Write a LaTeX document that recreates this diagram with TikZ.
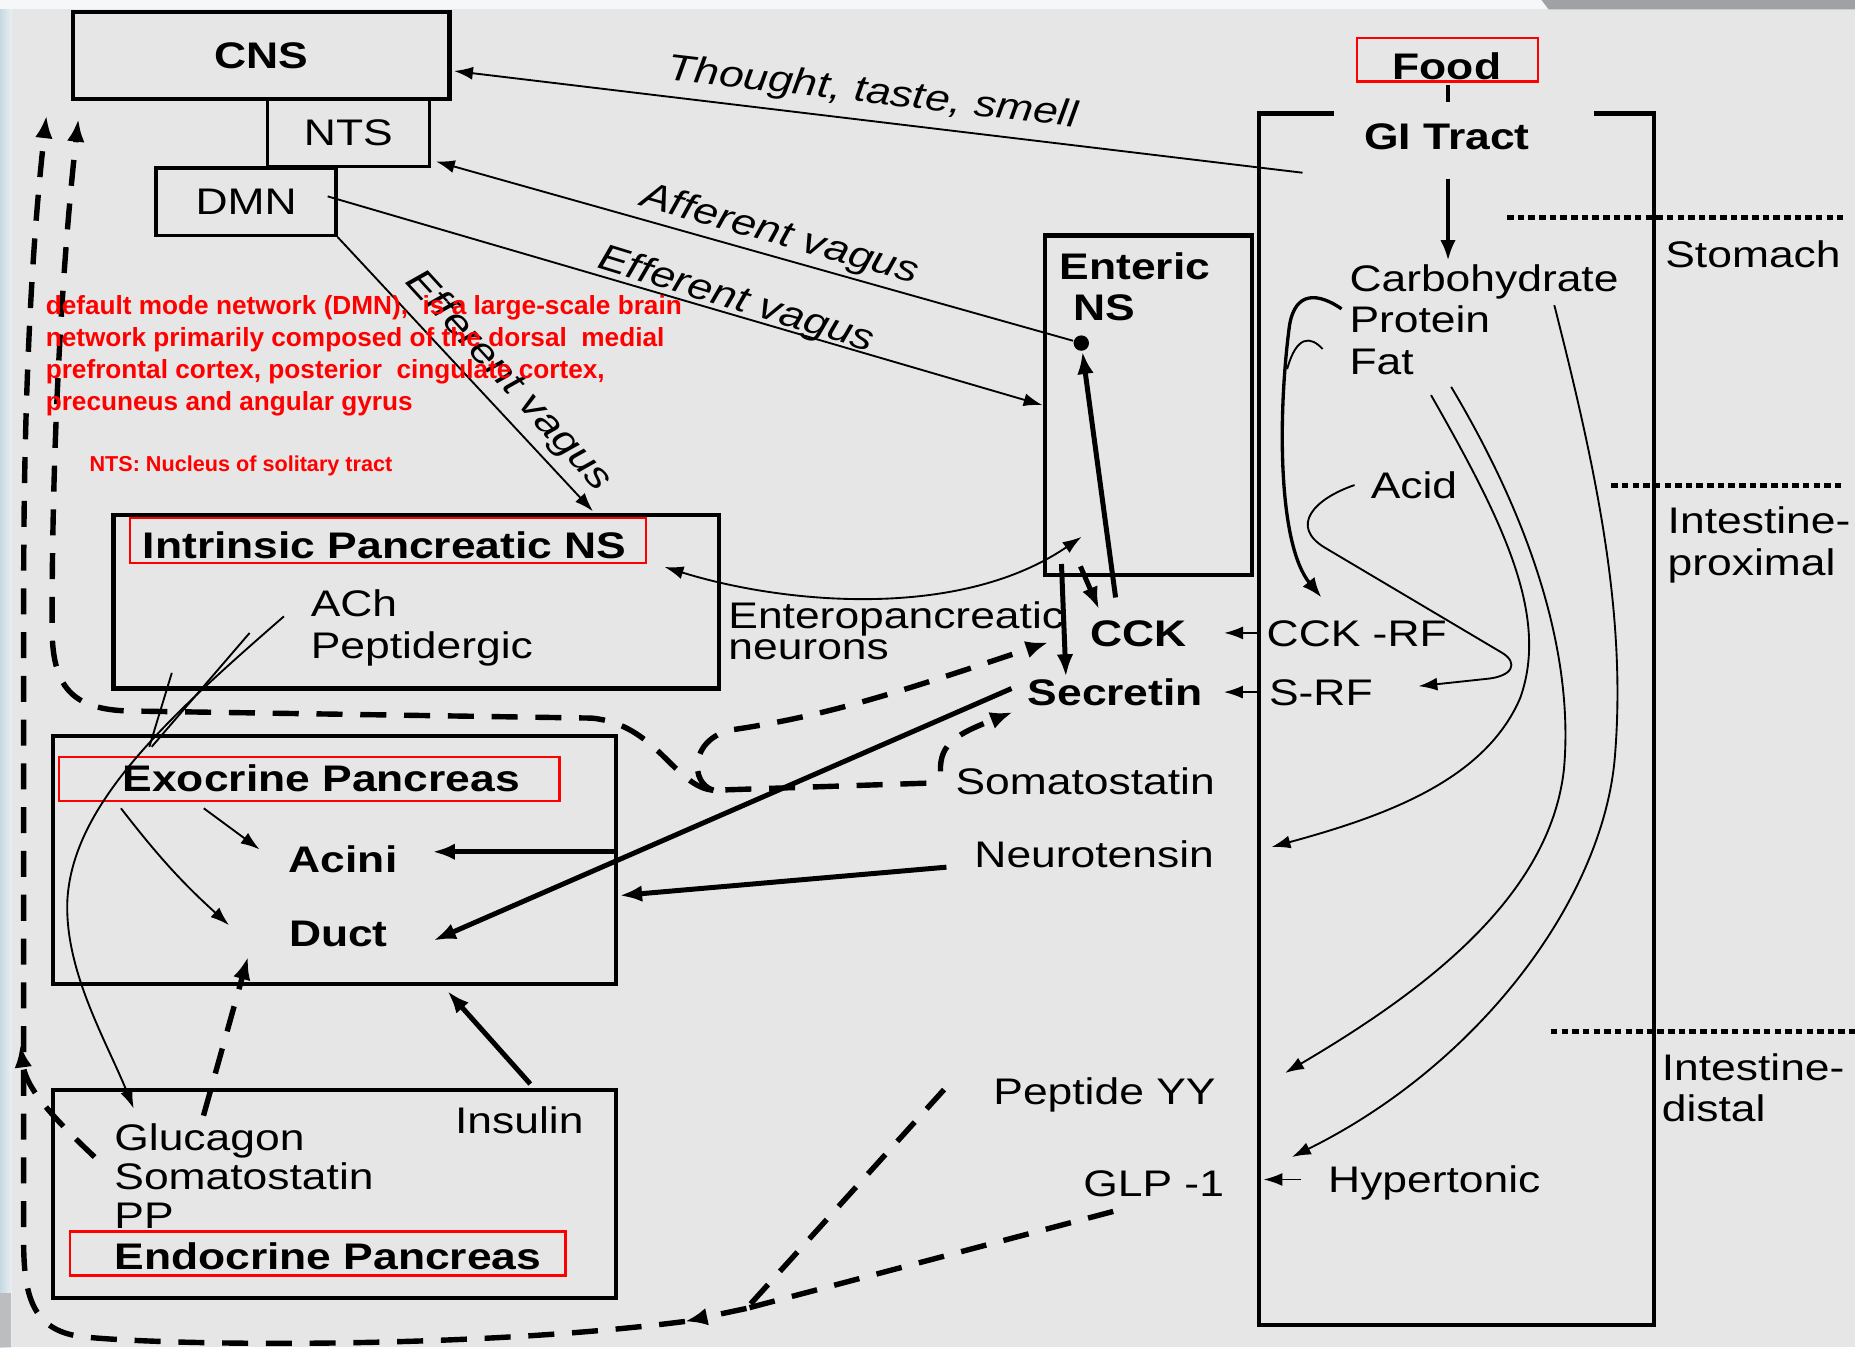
\documentclass[tikz,border=0pt]{standalone}
\usepackage{fontspec}
\setmainfont[FakeStretch=1.2]{Liberation Sans}
\newfontfamily\notefont{Liberation Sans}
\usepackage{tikz}
\usetikzlibrary{arrows.meta, positioning, calc}
\definecolor{bggray}{RGB}{230,230,230}
\definecolor{topstrip}{RGB}{245,247,249}
\definecolor{sidestrip}{RGB}{200,216,226}
\definecolor{cornergray}{RGB}{160,161,164}
\definecolor{notered}{RGB}{255,0,0}
\newcommand\diagfont{\fontsize{8.9}{10.5}\selectfont}
\tikzset{
  lbl/.style={inner sep=0pt, anchor=west, text height=6.4pt, text depth=0pt, font=\diagfont},
  blbl/.style={lbl, font=\diagfont\bfseries},
  ilbl/.style={lbl, anchor=center, font=\diagfont\itshape},
  box/.style={draw, line width=1pt, inner sep=0pt, font=\diagfont},
  hilite/.style={draw=notered, line width=0.6pt},
  nerve/.style={line width=0.45pt},
  arrow/.style={nerve, -{Latex[length=1.6mm, width=1.1mm]}},
  twoway/.style={nerve, {Latex[length=1.6mm, width=1.1mm]}-{Latex[length=1.6mm, width=1.1mm]}},
  midarrow/.style={line width=0.8pt, -{Latex[length=1.7mm, width=1.3mm]}},
  thickarrow/.style={line width=1.2pt, -{Latex[length=1.9mm, width=1.4mm]}},
  hormone/.style={line width=1.3pt, dash pattern=on 2.2mm off 1.5mm},
  hormonetip/.style={hormone, -{Latex[length=1.9mm, width=1.5mm]}},
  zone/.style={line width=1.2pt, dash pattern=on 0.55mm off 0.35mm},
  note/.style={inner sep=0pt, anchor=west, text=notered, text height=4.5pt, text depth=0pt,
    font=\notefont\bfseries\fontsize{6.3}{7.7}\selectfont}
}
\begin{document}
\begin{tikzpicture}[x=0.1mm, y=-0.1mm]
  \useasboundingbox (0,0) rectangle (1568,1139);
  % background of the slide
  \fill[bggray] (0,0) rectangle (1568,1139);
  \fill[topstrip] (0,0) rectangle (1568,8);
  \fill[cornergray] (1303,0) -- (1568,0) -- (1568,8) -- (1309,8) -- cycle;
  \shade[left color=sidestrip, right color=sidestrip!40!white] (0,8) rectangle (10,1139);
  \fill[cornergray!70] (0,1093) rectangle (9,1139);

  % brain and pancreas
  \node[box, minimum width=31.8mm, minimum height=7.4mm] (cns) at (221,47) {\bfseries CNS};
  \node[box, line width=0.8pt, minimum width=13.7mm, minimum height=5.7mm] (nts) at (294.5,112.5) {NTS};
  \node[box, line width=0.8pt, minimum width=15.2mm, minimum height=5.7mm] (dmn) at (208,170.5) {DMN};
  \node[box, minimum width=51.2mm, minimum height=14.7mm] (ipns) at (352,508.5) {};
  \node[box, minimum width=47.6mm, minimum height=21mm] (exo) at (283,727) {};
  \node[box, minimum width=47.6mm, minimum height=17.6mm] (endo) at (283,1009) {};
  \node[box, minimum width=17.5mm, minimum height=28.7mm] (ens) at (970.5,342.5) {};

  \node[blbl] (ipnst) at (120,461) {Intrinsic Pancreatic NS};
  \node[lbl] (ach) at (262,510) {ACh};
  \node[lbl] (pept) at (262,545) {Peptidergic};
  \node[blbl] (exot) at (103,658) {Exocrine Pancreas};
  \node[blbl, anchor=center] (acini) at (290,726) {Acini};
  \node[blbl, anchor=center] (duct) at (286,789) {Duct};
  \node[lbl] (glu) at (96,961) {Glucagon};
  \node[lbl] (endosom) at (96,994) {Somatostatin};
  \node[lbl] (pp) at (96,1027) {PP};
  \node[blbl] (endot) at (96,1062) {Endocrine Pancreas};
  \node[lbl] (ins) at (384,947) {Insulin};
  \node[blbl] (enst1) at (895,225) {Enteric};
  \node[blbl] (enst2) at (907,260) {NS};
  \node[circle, fill, inner sep=0pt, minimum size=1.3mm] (ensdot) at (914,290) {};

  \draw[hilite] (110,438) rectangle (546,476);
  \draw[hilite] (50,640) rectangle (473,677);
  \draw[hilite] (59,1041) rectangle (478,1078);

  % gut
  \draw[line width=1pt] (1128,96) -- (1064,96) -- (1064,1120) -- (1398,1120) -- (1398,96) -- (1347,96);
  \node[blbl, anchor=center] (food) at (1223,56) {Food};
  \draw[hilite] (1147,32) rectangle (1300,69);
  \node[blbl, anchor=center] (gi) at (1223,115) {GI Tract};
  \node[lbl] (carb) at (1140,235) {Carbohydrate};
  \node[lbl] (prot) at (1140,270) {Protein};
  \node[lbl] (fat) at (1140,305) {Fat};
  \node[lbl] (acid) at (1158,410) {Acid};
  \node[lbl] (stom) at (1407,215) {Stomach};
  \node[lbl] (prox1) at (1409,440) {Intestine-};
  \node[lbl] (prox2) at (1409,475) {proximal};
  \node[lbl] (dist1) at (1404,902) {Intestine-};
  \node[lbl] (dist2) at (1404,937) {distal};
  \draw[zone] (1274,184) -- (1558,184);
  \draw[zone] (1362,410) -- (1556,410);
  \draw[zone] (1311,872) -- (1568,872);

  \node[blbl] (cck) at (921,535) {CCK};
  \node[lbl] (cckrf) at (1070,535) {CCK -RF};
  \node[blbl] (secr) at (868,585) {Secretin};
  \node[lbl] (srf) at (1072,585) {S-RF};
  \node[lbl] (entp1) at (615,520) {Enteropancreatic};
  \node[lbl] (entp2) at (615,546) {neurons};
  \node[lbl] (somat) at (807,660) {Somatostatin};
  \node[lbl] (neuro) at (823,722) {Neurotensin};
  \node[lbl] (pyy) at (839,922) {Peptide YY};
  \node[lbl] (glp) at (915,1000) {GLP -1};
  \node[lbl] (hyper) at (1122,997) {Hypertonic};

  % vagal and sensory paths
  \coordinate (githought) at (1101,146);
  \coordinate (dmnout) at (277,166);
  \draw[arrow] (githought) -- ($(cns.east)+(2,13)$);
  \draw[arrow] (ensdot) -- ($(nts.south east)+(4,-6)$);
  \draw[arrow] (dmnout) -- (ens.west);
  \draw[arrow] (dmn.south east) -- ($(ipns.north west)+(407,-1)$);
  \node[ilbl, rotate=-6.7] (lthought) at (738,76) {Thought, taste, smell};
  \node[ilbl, rotate=-15.8] (laff) at (660,196) {Afferent vagus};
  \node[ilbl, rotate=-17] (leff) at (623,251) {Efferent vagus};
  \node[ilbl, rotate=-47.5] (leff2) at (432,320) {Efferent vagus};

  \draw[twoway] ($(ipns.north east)+(-48,46)$) .. controls (660,510) and (810,525) .. ($(ens.south west)+(33,-34)$);
  \draw[thickarrow] ($(cck.north west)+(22,-18)$) -- (ensdot);
  \draw[thickarrow] ($(ens.south west)+(32,-9)$) -- ($(cck.north west)+(8,-8)$);
  \draw[thickarrow] ($(ens.south west)+(16,-11)$) -- ($(secr.north west)+(33,-1)$);
  \draw[arrow] ($(cckrf.west)+(-7,0)$) -- ($(cck.east)+(31,0)$);
  \draw[arrow] ($(srf.west)+(-9,0)$) -- ($(secr.east)+(17,0)$);
  \draw[arrow] ($(hyper.west)+(-22,0)$) -- ($(hyper.west)+(-54,0)$);

  % hormones onto the pancreas
  \draw[thickarrow] ($(secr.west)+(-13,-3)$) -- ($(duct.east)+(38,6)$);
  \draw[thickarrow] ($(neuro.west)+(-23,11)$) -- ($(exo.east)+(1,30)$);
  \draw[thickarrow] ($(exo.east)+(0,-7)$) -- ($(acini.east)+(29,-6)$);
  \draw[thickarrow] ($(endo.north west)+(405,-3)$) -- ($(exo.south west)+(335,4)$);
  \draw[arrow] ($(exo.north west)+(129,63)$) -- ($(acini.west)+(-24,-8)$);
  \draw[arrow] ($(exo.north west)+(59,63)$) to[bend right=5] ($(duct.west)+(-50,-7)$);

  % intrinsic nerves
  \draw[arrow] ($(ach.west)+(-22,11)$) .. controls (140,608) and (62,680) .. (57,760)
    .. controls (54,820) and (90,880) .. ($(glu.north west)+(17,-12)$);
  \draw[nerve] ($(ach.west)+(-51,25)$) -- ($(exo.north west)+(85,11)$);
  \draw[nerve] ($(ipns.south west)+(51,-15)$) -- ($(exo.north west)+(83,11)$);

  % gut signals
  \draw[midarrow] ($(gi.south)+(1,24)$) -- ($(gi.south |- carb.north)+(1,-3)$);
  \draw[line width=0.8pt] ($(food.south)+(1,4)$) -- ($(food.south)+(1,18)$);
  \draw[midarrow] ($(prot.north west)+(-6,3)$) .. controls (1115,248) and (1095,245) .. (1090,275)
    .. controls (1080,350) and (1080,460) .. ($(cckrf.north west)+(47,-18)$);
  \draw[nerve] ($(fat.north west)+(-22,2)$) .. controls (1108,284) and (1096,283) .. (1088,312);
  \draw[arrow] ($(acid.west)+(-13,0)$) .. controls (1110,422) and (1090,445) .. (1120,463)
    -- (1270,552) .. controls (1283,560) and (1280,572) .. (1255,574) -- ($(srf.east)+(38,-5)$);
  \draw[arrow] ($(fat.east)+(14,29)$) .. controls (1270,440) and (1310,520) .. (1285,590)
    .. controls (1255,660) and (1170,690) .. ($(neuro.east)+(48,-6)$);
  \draw[arrow] ($(fat.east)+(31,22)$) .. controls (1300,450) and (1330,560) .. (1322,650)
    .. controls (1310,760) and (1200,840) .. ($(pyy.east)+(58,-15)$);
  \draw[arrow] ($(carb.east)+(-55,23)$) .. controls (1350,400) and (1375,520) .. (1365,640)
    .. controls (1355,760) and (1250,900) .. ($(hyper.west)+(-30,-19)$);

  % dashed feedback loops
  \coordinate (junc) at (631,1106);
  \coordinate (botarr) at (579,1117);
  \coordinate (somsplit) at (603,668);
  \draw[hormone] ($(pyy.west)+(-41,-1)$) -- (junc);
  \draw[hormone] ($(glp.west)+(26,24)$) -- (junc);
  \draw[hormonetip] (junc) -- (botarr);
  \draw[hormonetip] (botarr) .. controls (400,1140) and (150,1138) .. (70,1130)
    .. controls (30,1125) and (20,1100) .. (20,1050) -- (20,500)
    .. controls (20,300) and (30,180) .. ($(cns.south west)+(-21,12)$);
  \draw[hormone] ($(somat.west)+(-24,2)$) -- (somsplit);
  \draw[hormonetip] (somsplit) .. controls (583,662) and (583,625) .. (618,617)
    .. controls (700,605) and (760,585) .. ($(cck.west)+(-35,8)$);
  \draw[hormonetip] (somsplit) .. controls (570,665) and (555,612) .. (500,607) -- (110,601)
    .. controls (60,600) and (44,580) .. (44,530)
    .. controls (44,350) and (55,200) .. ($(cns.south west)+(6,15)$);
  \draw[hormonetip] ($(somat.west)+(-12,-8)$) .. controls (794,628) and (810,620) .. ($(secr.west)+(-12,17)$);
  \draw[hormonetip] ($(glu.north west)+(76,-6)$) -- ($(duct.south west)+(-34,8)$);
  \draw[hormonetip] ($(glu.west)+(-16,17)$) .. controls (45,945) and (22,920) .. ($(endo.north west)+(-26,-36)$);

  % annotations
  \node[note] (dmnnote1) at (38,258) {default mode network (DMN),~ is a large-scale brain};
  \node[note] (dmnnote2) at (38,285) {network primarily composed of the dorsal~ medial};
  \node[note] (dmnnote3) at (38,312) {prefrontal cortex, posterior~ cingulate cortex,};
  \node[note] (dmnnote4) at (38,339) {precuneus and angular gyrus};
  \node[note, font=\notefont\bfseries\fontsize{5.2}{6.2}\selectfont] (ntsnote) at (75,391) {NTS: Nucleus of solitary tract};
\end{tikzpicture}
\end{document}
